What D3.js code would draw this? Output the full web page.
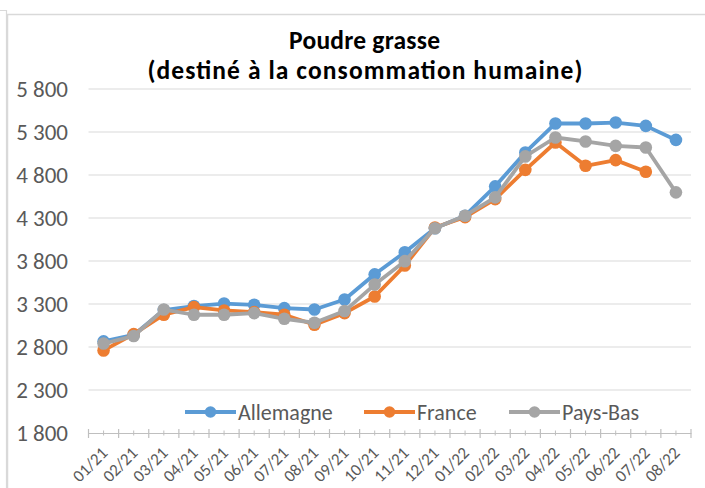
<!DOCTYPE html>
<html><head><meta charset="utf-8">
<script src="https://cdn.jsdelivr.net/npm/d3@7"></script>
<style>body{margin:0;background:#fff}svg{display:block;font-family:Calibri,"Carlito","Liberation Sans","DejaVu Sans",sans-serif}</style>
</head><body>
<svg id="c" width="705" height="488"></svg>
<script>
const months = ["01/21","02/21","03/21","04/21","05/21","06/21","07/21","08/21","09/21","10/21","11/21","12/21","01/22","02/22","03/22","04/22","05/22","06/22","07/22","08/22"];
const allemagne = [2865,2940,3230,3276,3305,3291,3252,3236,3352,3645,3902,4180,4327,4668,5062,5399,5399,5410,5371,5208];
const france    = [2760,2950,3175,3264,3225,3206,3175,3059,3194,3387,3747,4190,4310,4520,4860,5178,4907,4973,4837,null];
const paysBas   = [2840,2928,3236,3175,3175,3194,3128,3082,3218,3526,3798,4180,4327,4540,5016,5236,5190,5139,5120,4598];
const yTicks = [1800,2300,2800,3300,3800,4300,4800,5300,5800];
const seriesNames = ["Allemagne","France","Pays-Bas"];
const colors = ["#5B9BD5","#ED7D31","#A5A5A5"];
const series = [allemagne, france, paysBas];

const svg = d3.select("#c");
const font = "Calibri, Carlito, 'Liberation Sans', sans-serif";
// frame
svg.append("path").attr("d","M0,10.5H6.5V488").attr("fill","none").attr("stroke","#d9d9d9").attr("stroke-width",1.2);
svg.append("path").attr("d","M7.5,488V14.5H705").attr("fill","none").attr("stroke","#d9d9d9").attr("stroke-width",1.5);

const x = d3.scaleBand().domain(months).range([88.5,691]);
const y = d3.scaleLinear().domain([1800,5800]).range([433,89]);
const cx = m => x(m)+x.bandwidth()/2;

// gridlines
svg.append("g").selectAll("line").data(yTicks.filter(t=>t>1800)).join("line")
  .attr("x1",88.5).attr("x2",691).attr("y1",d=>y(d)).attr("y2",d=>y(d))
  .attr("stroke","#d9d9d9").attr("stroke-width",1.2);

// y axis labels
const fmt = v => d3.format(",")(v).replace(/,/g," ");
svg.append("g").selectAll("text").data(yTicks).join("text")
  .attr("x",68).attr("y",d=>y(d)+7.5).attr("text-anchor","end")
  .attr("font-size",23).attr("fill","#595959").attr("font-family",font).text(fmt);

// x axis
const xAxis = d3.axisBottom(x).tickSize(0).tickFormat(d=>d);
const gx = svg.append("g").attr("transform",`translate(0,${y(1800)})`).call(xAxis);
gx.select(".domain").attr("stroke","#bfbfbf").attr("stroke-width",1.2);
gx.selectAll(".tick text").attr("font-size",17).attr("fill","#595959").attr("font-family",font)
  .attr("text-anchor","end").attr("dy",null).attr("y",0)
  .attr("transform",`translate(5,21) rotate(-45)`);
// boundary ticks
const bounds = months.map(m=>x(m)).concat([x.range()[1]]);
svg.append("g").selectAll("line").data(bounds).join("line")
  .attr("x1",d=>d).attr("x2",d=>d).attr("y1",y(1800)-4).attr("y2",y(1800)+5)
  .attr("stroke","#bfbfbf").attr("stroke-width",1.2);
svg.append("g").selectAll("line").data(months).join("line")
  .attr("x1",d=>cx(d)).attr("x2",d=>cx(d)).attr("y1",y(1800)-2.5).attr("y2",y(1800)+2.5)
  .attr("stroke","#bfbfbf").attr("stroke-width",1);

// lines
const line = d3.line().defined(d=>d.v!=null).x(d=>cx(d.m)).y(d=>y(d.v));
series.forEach((s,i)=>{
  const data = months.map((m,j)=>({m, v:s[j]}));
  const g = svg.append("g");
  g.append("path").datum(data).attr("d",line).attr("fill","none")
    .attr("stroke",colors[i]).attr("stroke-width",3.8).attr("stroke-linejoin","round");
  g.selectAll("circle").data(data.filter(d=>d.v!=null)).join("circle")
    .attr("cx",d=>cx(d.m)).attr("cy",d=>y(d.v)).attr("r",6.3)
    .attr("fill",colors[i]);
});

// legend
const legX = [185, 364, 509];
const lg = svg.append("g");
seriesNames.forEach((n,i)=>{
  const g = lg.append("g").attr("transform",`translate(${legX[i]},412)`);
  g.append("line").attr("x1",0).attr("x2",51).attr("y1",0).attr("y2",0).attr("stroke",colors[i]).attr("stroke-width",3.8);
  g.append("circle").attr("cx",25.5).attr("cy",0).attr("r",5.8).attr("fill",colors[i]);
  g.append("text").attr("x",53).attr("y",7.5).attr("font-size",22).attr("fill","#595959").attr("font-family",font).text(n);
});

// title
const t = svg.append("text").attr("text-anchor","middle").attr("font-weight","bold").attr("font-size",25.5)
  .attr("fill","#000").attr("font-family",font);
t.append("tspan").attr("x",364.5).attr("y",49).attr("textLength",151).attr("lengthAdjust","spacing").text("Poudre grasse");
t.append("tspan").attr("x",365).attr("y",79).attr("textLength",435).attr("lengthAdjust","spacing").text("(destiné à la consommation humaine)");
</script>
</body></html>
